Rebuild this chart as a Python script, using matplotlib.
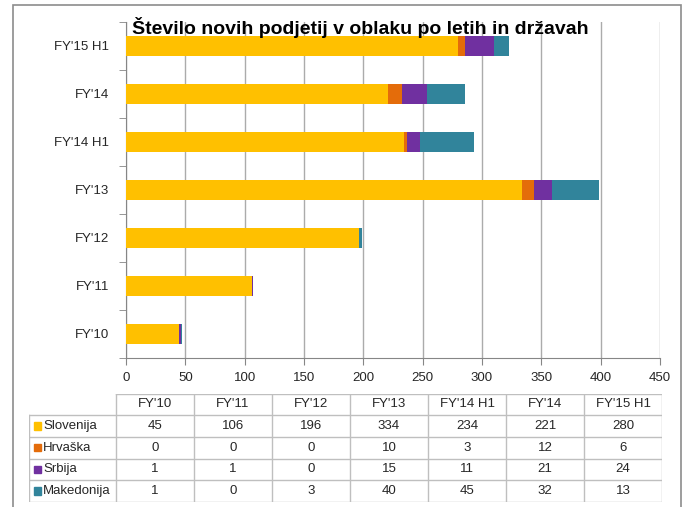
import matplotlib.pyplot as plt
import numpy as np
from matplotlib.patches import Rectangle

plt.rcParams['font.family'] = ['Liberation Sans', 'DejaVu Sans']

title = "Število novih podjetij v oblaku po letih in državah"
years = ["FY'10", "FY'11", "FY'12", "FY'13", "FY'14 H1", "FY'14", "FY'15 H1"]
countries = ["Slovenija", "Hrvaška", "Srbija", "Makedonija"]
slovenija = [45, 106, 196, 334, 234, 221, 280]
hrvaska = [0, 0, 0, 10, 3, 12, 6]
srbija = [1, 1, 0, 15, 11, 21, 24]
makedonija = [1, 0, 3, 40, 45, 32, 13]
colors = ["#FFC000", "#E46C0A", "#7030A0", "#31849B"]
xticks = [0, 50, 100, 150, 200, 250, 300, 350, 400, 450]

W, H = 683, 507
fig = plt.figure(figsize=(W / 100, H / 100), dpi=100)

# outer frame (cut off at the bottom like the screenshot)
fig.patches.append(Rectangle((13 / W, -0.1), (681 - 13) / W, 1.1 - 5 / H,
                             transform=fig.transFigure, fill=False,
                             edgecolor="#8C8C8C", lw=1.2))

# --- bar chart ---
ax = fig.add_axes([126 / W, 1 - 358 / H, (660 - 126) / W, (358 - 22) / H])
series = [slovenija, hrvaska, srbija, makedonija]
y = np.arange(len(years))
left = np.zeros(len(years))
for vals, c in zip(series, colors):
    ax.barh(y, vals, left=left, height=0.42, color=c, zorder=3)
    left += np.array(vals)

ax.set_xlim(0, 450)
ax.set_ylim(-0.5, len(years) - 0.5)
ax.set_xticks(xticks)
ax.set_yticks(y)
ax.set_yticklabels(years)
ax.set_yticks(np.arange(-0.5, len(years)), minor=True)
ax.tick_params(axis='y', which='major', length=0, pad=12, labelsize=9.5,
               labelcolor="#262626")
ax.tick_params(axis='y', which='minor', length=5, color="#868686")
ax.tick_params(axis='x', length=5, color="#868686", pad=5, labelsize=9.5,
               labelcolor="#262626")
ax.grid(axis='x', color="#ABABAB", lw=1, zorder=0)
for s in ['top', 'right']:
    ax.spines[s].set_visible(False)
for s in ['left', 'bottom']:
    ax.spines[s].set_color("#868686")

fig.text(360 / W, 1 - 27 / H, title, ha='center', va='center',
         fontsize=14, fontweight='bold', color="#000000")

# --- data table ---
tax = fig.add_axes([29 / W, 5 / H, (662 - 29) / W, (502 - 393.5) / H])
tax.set_xlim(0, 1)
tax.set_ylim(len(countries) + 1, 0)
tax.axis('off')
lab_w = 87 / 633
col_w = (1 - lab_w) / len(years)
gc = "#BFBFBF"
# horizontal lines
tax.plot([lab_w, 1], [0, 0], color=gc, lw=1)
for r in range(1, len(countries) + 2):
    tax.plot([0, 1], [r, r], color=gc, lw=1)
# vertical lines
tax.plot([0, 0], [1, len(countries) + 1], color=gc, lw=1)
for k in range(len(years) + 1):
    xx = lab_w + k * col_w
    tax.plot([xx, xx], [0, len(countries) + 1], color=gc, lw=1)

for k, yr in enumerate(years):
    tax.text(lab_w + (k + 0.5) * col_w, 0.5, yr, ha='center', va='center',
             fontsize=9.5, color="#262626")
for r, (name, vals, c) in enumerate(zip(countries, series, colors)):
    tax.add_patch(Rectangle((5 / 633, r + 1.5 - 0.17), 7 / 633, 0.34,
                            color=c, clip_on=False))
    tax.text(14 / 633, r + 1.5, name, ha='left', va='center', fontsize=9.5,
             color="#262626")
    for k, v in enumerate(vals):
        tax.text(lab_w + (k + 0.5) * col_w, r + 1.5, str(v), ha='center',
                 va='center', fontsize=9.5, color="#262626")

fig.savefig("out.png", dpi=100)
